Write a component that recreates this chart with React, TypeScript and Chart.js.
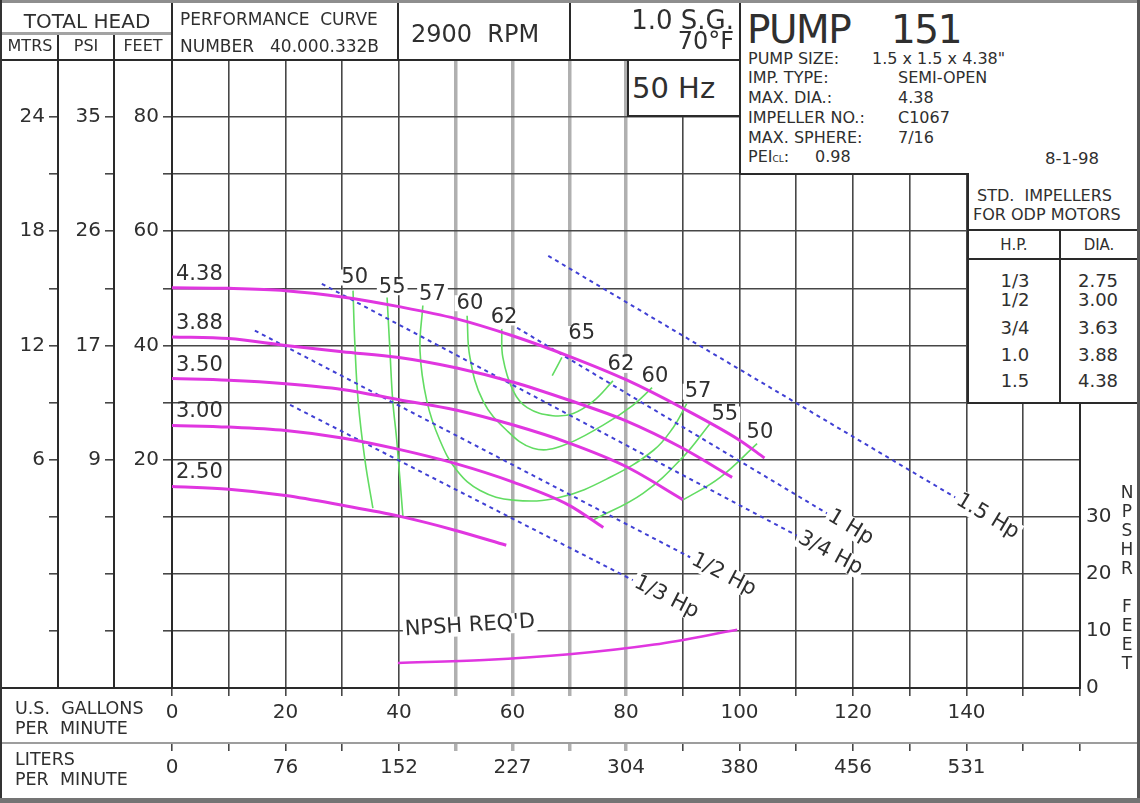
import React, { useEffect, useRef } from 'react';
import { Chart, registerables } from 'chart.js';

Chart.register(...registerables);

// ---------------- Data ----------------
const gpmTickLabels = [0, 20, 40, 60, 80, 100, 120, 140];
const lpmTickLabels = ['0', '76', '152', '227', '304', '380', '456', '531'];
const feetTickLabels = [80, 60, 40, 20];
const mtrsTickLabels = ['24', '18', '12', '6'];
const psiTickLabels = ['35', '26', '17', '9'];
const npshTickLabels = [0, 10, 20, 30];

// Impeller head curves (GPM vs feet)
const impellerNames = ['4.38', '3.88', '3.50', '3.00', '2.50'];
const imp438Gpm = [0, 10, 20, 30, 40, 50, 60, 70, 80, 90, 100, 104.4];
const imp438Head = [50.1, 50.0, 49.6, 48.5, 46.8, 44.7, 41.7, 38.1, 34.0, 29.0, 23.4, 20.3];
const imp388Gpm = [0, 10, 20, 30, 40, 50, 60, 70, 80, 90, 98.7];
const imp388Head = [41.5, 41.2, 40.0, 38.9, 37.9, 36.1, 33.6, 30.4, 26.8, 22.0, 16.9];
const imp350Gpm = [0, 10, 20, 30, 40, 50, 60, 70, 80, 90];
const imp350Head = [34.2, 33.9, 33.3, 32.3, 30.5, 28.7, 26.1, 22.9, 18.8, 13.0];
const imp300Gpm = [0, 10, 20, 30, 40, 50, 60, 70, 76];
const imp300Head = [26.0, 25.7, 25.1, 23.8, 21.8, 19.3, 16.1, 12.0, 8.1];
const imp250Gpm = [0, 10, 20, 30, 40, 50, 58.9];
const imp250Head = [15.3, 14.8, 13.7, 12.0, 10.1, 7.6, 5.0];

// Efficiency contours (%)
const eff50LeftGpm = [31.9, 32.2, 32.8, 34.0, 35.4];
const eff50LeftHead = [49.6, 40.8, 30.3, 19.9, 11.5];
const eff55LeftGpm = [37.9, 38.4, 38.9, 39.6, 40.7];
const eff55LeftHead = [48.4, 39.1, 30.3, 23.4, 9.9];
const eff57Gpm = [44.2, 43.7, 44.9, 47.2, 50.2, 54.3, 60.1, 68.4, 77.2, 84.8, 88.3, 90.7];
const eff57Head = [47.0, 39.1, 30.3, 23.4, 18.1, 14.6, 12.9, 13.4, 16.9, 21.6, 25.6, 29.8];
const eff60Gpm = [52.0, 52.5, 54.8, 59.0, 63.6, 68.4, 75.9, 81.2, 84.6];
const eff60Head = [45.2, 37.9, 30.3, 25.1, 22.0, 22.3, 26.0, 29.5, 32.6];
const eff62Gpm = [58.1, 58.3, 60.1, 62.6, 67.1, 70.7, 74.2, 77.7];
const eff62Head = [42.9, 37.9, 32.1, 29.1, 27.7, 28.1, 30.2, 33.8];
const eff65Gpm = [67.0, 68.7];
const eff65Head = [34.7, 37.9];
const eff55RightGpm = [74.2, 83.0, 90.0, 94.8];
const eff55RightHead = [9.4, 14.1, 20.4, 26.3];
const eff50RightGpm = [90.0, 96.6, 103.1];
const eff50RightHead = [12.9, 16.9, 22.8];

const effLabelText = ['50', '55', '57', '60', '62', '65', '62', '60', '57', '55', '50'];
const effLabelGpm = [32.2, 38.8, 45.9, 52.5, 58.5, 72.2, 79.1, 85.1, 92.7, 97.4, 103.6];
const effLabelHead = [51.9, 50.2, 48.9, 47.4, 44.9, 42.0, 36.6, 34.6, 31.9, 27.9, 24.8];

// Motor horsepower lines
const hpNames = ['1/3 Hp', '1/2 Hp', '3/4 Hp', '1 Hp', '1.5 Hp'];
const hp13Gpm = [20.8, 81.2];
const hp13Head = [29.6, -1.1];
const hp12Gpm = [14.6, 91.3];
const hp12Head = [42.6, 2.9];
const hp34Gpm = [26.4, 110.1];
const hp34Head = [50.8, 6.7];
const hp1Gpm = [60.8, 115.4];
const hp1Head = [43.1, 10.6];
const hp15Gpm = [66.3, 138.0];
const hp15Head = [55.7, 13.4];

// NPSH required (feet)
const npshGpm = [39.8, 55, 70, 85, 99.6];
const npshFeet = [4.4, 4.9, 5.9, 7.6, 10.2];
const npshLabel = "NPSH REQ'D";
const npshLabelGpm = 52.5;
const npshLabelFeet = 10.9;

// Std impellers table
const stdHp = ['1/3', '1/2', '3/4', '1.0', '1.5'];
const stdDia = ['2.75', '3.00', '3.63', '3.88', '4.38'];

// ---------------- Styles ----------------
const FONT = "'DejaVu Sans', Verdana, sans-serif";
const TEXT = '#2f2f2f';
const LINE = '#2a2a2a';
const GRID_DARK = '#474747';
const GRID_GRAY = '#b0b0b0';
const shadedGpm = [50, 60, 70, 80];
const MAGENTA = '#e036e0';
const GREEN = '#62dc62';
const BLUE = '#4040d4';

const pts = (xs: number[], ys: number[]) => xs.map((x, i) => ({ x, y: ys[i] }));

function boxedText(ctx: CanvasRenderingContext2D, text: string, px: number, py: number, angle: number, align: CanvasTextAlign, h: number) {
  ctx.save();
  ctx.translate(px, py);
  ctx.rotate(angle);
  const w = ctx.measureText(text).width;
  const x0 = align === 'left' ? 0 : -w / 2;
  ctx.fillStyle = '#fff';
  ctx.fillRect(x0 - 2, -h / 2, w + 4, h);
  ctx.fillStyle = TEXT;
  ctx.textAlign = align;
  ctx.textBaseline = 'middle';
  ctx.fillText(text, 0, 0);
  ctx.restore();
}

const labelPlugin = {
  id: 'pumpLabels',
  beforeDatasetsDraw(chart: any) {
    const { ctx, scales } = chart;
    const sx = scales.x, sy = scales.feet, sn = scales.npsh;
    ctx.save();
    // efficiency labels
    ctx.font = `21px ${FONT}`;
    effLabelText.forEach((t, i) => {
      boxedText(ctx, t, sx.getPixelForValue(effLabelGpm[i]), sy.getPixelForValue(effLabelHead[i]), 0, 'center', 16);
    });
    // HP labels
    ctx.font = `21px ${FONT}`;
    const hpSets = [[hp13Gpm, hp13Head], [hp12Gpm, hp12Head], [hp34Gpm, hp34Head], [hp1Gpm, hp1Head], [hp15Gpm, hp15Head]];
    hpSets.forEach(([g, h], i) => {
      const x1 = sx.getPixelForValue(g[0]), y1 = sy.getPixelForValue(h[0]);
      const x2 = sx.getPixelForValue(g[1]), y2 = sy.getPixelForValue(h[1]);
      const a = Math.atan2(y2 - y1, x2 - x1);
      boxedText(ctx, hpNames[i], x2 + Math.cos(a) * 3, y2 + Math.sin(a) * 3, a, 'left', 21);
    });
    // NPSH label
    ctx.font = `21px ${FONT}`;
    boxedText(ctx, npshLabel, sx.getPixelForValue(npshLabelGpm), sn.getPixelForValue(npshLabelFeet), -0.06, 'center', 20);
    // impeller labels
    ctx.font = `21px ${FONT}`;
    ctx.fillStyle = TEXT;
    ctx.textAlign = 'left';
    ctx.textBaseline = 'alphabetic';
    const heads = [imp438Head, imp388Head, imp350Head, imp300Head, imp250Head];
    const gpms = [imp438Gpm, imp388Gpm, imp350Gpm, imp300Gpm, imp250Gpm];
    impellerNames.forEach((n, i) => {
      ctx.fillText(n, sx.getPixelForValue(gpms[i][0]) + 4, sy.getPixelForValue(heads[i][0]) - 8);
    });
    ctx.restore();
  },
};

const gridColor = (c: any) => (c.tick && shadedGpm.includes(c.tick.value) ? GRID_GRAY : GRID_DARK);
const gridWidth = (c: any) => (c.tick && shadedGpm.includes(c.tick.value) ? 3.5 : 1.6);

function Line({ l, t, w, h, c = LINE }: { l: number; t: number; w: number; h: number; c?: string }) {
  return <div style={{ position: 'absolute', left: l, top: t, width: w, height: h, background: c }} />;
}

function Txt({ l, t, s, children, style }: { l: number; t: number; s: number; children: any; style?: any }) {
  return (
    <div style={{ position: 'absolute', left: l, top: t, fontSize: s, lineHeight: 1, whiteSpace: 'pre', color: TEXT, ...style }}>
      {children}
    </div>
  );
}

export default function App() {
  const ref = useRef<HTMLCanvasElement>(null);

  useEffect(() => {
    const canvas = ref.current!;
    const base = { pointRadius: 0, pointHoverRadius: 0, xAxisID: 'x', yAxisID: 'feet', fill: false };
    const impSets = [[imp438Gpm, imp438Head], [imp388Gpm, imp388Head], [imp350Gpm, imp350Head], [imp300Gpm, imp300Head], [imp250Gpm, imp250Head]];
    const effSets = [
      [eff50LeftGpm, eff50LeftHead], [eff55LeftGpm, eff55LeftHead], [eff57Gpm, eff57Head], [eff60Gpm, eff60Head],
      [eff62Gpm, eff62Head], [eff65Gpm, eff65Head], [eff55RightGpm, eff55RightHead], [eff50RightGpm, eff50RightHead],
    ];
    const hpSets = [[hp13Gpm, hp13Head], [hp12Gpm, hp12Head], [hp34Gpm, hp34Head], [hp1Gpm, hp1Head], [hp15Gpm, hp15Head]];
    const datasets: any[] = [];
    impSets.forEach(([g, h]) => datasets.push({ ...base, data: pts(g, h), borderColor: MAGENTA, borderWidth: 3, cubicInterpolationMode: 'monotone' }));
    datasets.push({ ...base, yAxisID: 'npsh', data: pts(npshGpm, npshFeet), borderColor: MAGENTA, borderWidth: 2.5, cubicInterpolationMode: 'monotone' });
    hpSets.forEach(([g, h]) => datasets.push({ ...base, data: pts(g, h), borderColor: BLUE, borderWidth: 2, borderDash: [4, 4] }));
    effSets.forEach(([g, h]) => datasets.push({ ...base, data: pts(g, h), borderColor: GREEN, borderWidth: 1.6, tension: 0.4 }));

    const tickFont = { family: FONT, size: 20 };
    const chart = new Chart(canvas, {
      type: 'line',
      data: { datasets },
      plugins: [labelPlugin],
      options: {
        animation: false,
        responsive: false,
        events: [],
        layout: { padding: { left: 3, right: 3, top: 60, bottom: 3 } },
        plugins: { legend: { display: false }, tooltip: { enabled: false } },
        scales: {
          x: {
            type: 'linear', position: 'bottom', weight: 0, min: 0, max: 160,
            afterFit: (s: any) => { s.height = 55; },
            ticks: { stepSize: 10, autoSkip: false, maxRotation: 0, padding: 5, color: TEXT, font: tickFont,
              callback: (v: any) => (gpmTickLabels.includes(v) ? String(v) : '') },
            grid: { color: gridColor, lineWidth: gridWidth, tickLength: 8, tickColor: gridColor, tickWidth: gridWidth },
            border: { display: false },
          },
          lpm: {
            type: 'linear', position: 'bottom', weight: 1, min: 0, max: 160,
            afterFit: (s: any) => { s.height = 57; },
            ticks: { stepSize: 10, autoSkip: false, maxRotation: 0, padding: 5, color: TEXT, font: tickFont,
              callback: (v: any) => (v % 20 === 0 && v / 20 < lpmTickLabels.length ? lpmTickLabels[v / 20] : '') },
            grid: { drawOnChartArea: false, color: gridColor, lineWidth: gridWidth, tickLength: 8 },
            border: { display: false },
          },
          feet: {
            type: 'linear', position: 'left', weight: 0, min: -20, max: 90,
            afterFit: (s: any) => { s.width = 58; },
            ticks: { stepSize: 10, autoSkip: false, padding: 4, color: TEXT, font: tickFont,
              callback: (v: any) => (feetTickLabels.includes(v) ? String(v) : '') },
            grid: { color: GRID_DARK, lineWidth: 1.6, tickLength: 9 },
            border: { color: LINE, width: 2 },
          },
          psi: {
            type: 'linear', position: 'left', weight: 1, min: -20, max: 90,
            afterFit: (s: any) => { s.width = 56; },
            ticks: { stepSize: 10, autoSkip: false, padding: 4, color: TEXT, font: tickFont,
              callback: (v: any) => { const i = feetTickLabels.indexOf(v); return i >= 0 ? psiTickLabels[i] : ''; } },
            grid: { drawOnChartArea: false, color: GRID_DARK, lineWidth: 1.6, tickLength: 9 },
            border: { color: LINE, width: 2 },
          },
          mtrs: {
            type: 'linear', position: 'left', weight: 2, min: -20, max: 90,
            afterFit: (s: any) => { s.width = 55; },
            ticks: { stepSize: 10, autoSkip: false, padding: 4, color: TEXT, font: tickFont,
              callback: (v: any) => { const i = feetTickLabels.indexOf(v); return i >= 0 ? mtrsTickLabels[i] : ''; } },
            grid: { drawOnChartArea: false, color: GRID_DARK, lineWidth: 1.6, tickLength: 9 },
            border: { color: LINE, width: 2 },
          },
          npsh: {
            type: 'linear', position: 'right', min: 0, max: 110,
            afterFit: (s: any) => { s.width = 57; },
            ticks: { stepSize: 10, autoSkip: false, padding: 6, color: TEXT, font: tickFont,
              callback: (v: any) => (npshTickLabels.includes(v) ? String(v) : '') },
            grid: { drawOnChartArea: false, drawTicks: false },
            border: { color: LINE, width: 2 },
          },
        },
      } as any,
    });
    return () => chart.destroy();
  }, []);

  const detailRows = [
    ['PUMP SIZE:', '1.5 x 1.5 x 4.38"', 872, 51],
    ['IMP. TYPE:', 'SEMI-OPEN', 898, 70],
    ['MAX. DIA.:', '4.38', 898, 90],
    ['IMPELLER NO.:', 'C1067', 898, 110],
    ['MAX. SPHERE:', '7/16', 898, 130],
  ];
  const stdRowsY = [272, 291, 319, 346, 372];

  return (
    <div style={{ position: 'absolute', left: 0, top: 0, width: 1140, height: 803, overflow: 'hidden', background: '#fff', fontFamily: FONT }}>
      <canvas ref={ref} width={1140} height={803} style={{ position: 'absolute', left: 0, top: 0 }} />

      {/* header left */}
      <div style={{ position: 'absolute', left: 2, top: 11, width: 170, textAlign: 'center', fontSize: 20, lineHeight: 1, color: TEXT }}>TOTAL HEAD</div>
      <Line l={2} t={32} w={170} h={3} c="#a3a3a3" />
      <div style={{ position: 'absolute', left: 2, top: 38, width: 56, textAlign: 'center', fontSize: 16, lineHeight: 1, color: TEXT }}>MTRS</div>
      <div style={{ position: 'absolute', left: 58, top: 38, width: 56, textAlign: 'center', fontSize: 16, lineHeight: 1, color: TEXT }}>PSI</div>
      <div style={{ position: 'absolute', left: 114, top: 38, width: 58, textAlign: 'center', fontSize: 16, lineHeight: 1, color: TEXT }}>FEET</div>
      <Line l={57} t={35} w={2} h={25} />
      <Line l={113} t={35} w={2} h={25} />
      <Line l={171} t={0} w={2} h={60} />
      <Txt l={180} t={11} s={17}>PERFORMANCE  CURVE</Txt>
      <Txt l={180} t={38} s={17}>NUMBER</Txt>
      <Txt l={270} t={38} s={17}>40.000.332B</Txt>
      <Line l={397} t={0} w={2} h={60} />
      <Txt l={411} t={22} s={24}>2900  RPM</Txt>
      <Line l={569} t={0} w={2} h={60} />
      <div style={{ position: 'absolute', left: 570, top: 7, width: 164, textAlign: 'right', fontSize: 26, lineHeight: 1, color: TEXT }}>1.0 S.G.</div>
      <div style={{ position: 'absolute', left: 570, top: 29, width: 164, textAlign: 'right', fontSize: 24, lineHeight: 1, color: TEXT }}>70°F</div>
      <Line l={0} t={59} w={741} h={2} />

      {/* 50 Hz box */}
      <div style={{ position: 'absolute', left: 627, top: 59, width: 114, height: 58, boxSizing: 'border-box', border: `2px solid ${LINE}`, background: '#fff' }}>
        <div style={{ position: 'absolute', left: 3, top: 13, fontSize: 29, lineHeight: 1, color: TEXT }}>50 Hz</div>
      </div>

      {/* pump box */}
      <div style={{ position: 'absolute', left: 739, top: 0, width: 288, height: 175, boxSizing: 'border-box', borderLeft: `2px solid ${LINE}`, borderRight: `2px solid ${LINE}`, borderBottom: `2px solid ${LINE}`, background: '#fff' }} />
      <Txt l={747} t={10} s={39} style={{ letterSpacing: -1.5 }}>PUMP</Txt>
      <Txt l={891} t={10} s={39} style={{ letterSpacing: -1.5 }}>151</Txt>
      {detailRows.map((r) => (
        <React.Fragment key={r[0] as string}>
          <Txt l={748} t={r[3] as number} s={16}>{r[0]}</Txt>
          <Txt l={r[2] as number} t={r[3] as number} s={16}>{r[1]}</Txt>
        </React.Fragment>
      ))}
      <Txt l={748} t={149} s={16}>PEI<span style={{ fontSize: 9 }}>CL</span>:</Txt>
      <Txt l={815} t={149} s={16}>0.98</Txt>

      {/* right top box */}
      <div style={{ position: 'absolute', left: 1025, top: 0, width: 115, height: 175, boxSizing: 'border-box', borderBottom: `2px solid ${LINE}`, background: '#fff' }} />
      <Txt l={1045} t={151} s={16.5}>8-1-98</Txt>

      {/* std impellers table */}
      <div style={{ position: 'absolute', left: 967, top: 173, width: 173, height: 231, boxSizing: 'border-box', borderLeft: `2px solid ${LINE}`, borderBottom: `2px solid ${LINE}`, background: '#fff' }} />
      <Txt l={977} t={188} s={16}>STD.  IMPELLERS</Txt>
      <Txt l={973} t={207} s={16}>FOR ODP MOTORS</Txt>
      <Line l={967} t={229} w={173} h={2} />
      <Line l={967} t={258} w={173} h={2} />
      <Line l={1059} t={229} w={2} h={174} />
      <div style={{ position: 'absolute', left: 969, top: 238, width: 90, textAlign: 'center', fontSize: 15, lineHeight: 1, color: TEXT }}>H.P.</div>
      <div style={{ position: 'absolute', left: 1061, top: 238, width: 76, textAlign: 'center', fontSize: 15, lineHeight: 1, color: TEXT }}>DIA.</div>
      {stdHp.map((h, i) => (
        <React.Fragment key={h}>
          <div style={{ position: 'absolute', left: 969, top: stdRowsY[i], width: 92, textAlign: 'center', fontSize: 18, lineHeight: 1, color: TEXT }}>{h}</div>
          <div style={{ position: 'absolute', left: 1061, top: stdRowsY[i], width: 74, textAlign: 'center', fontSize: 18, lineHeight: 1, color: TEXT }}>{stdDia[i]}</div>
        </React.Fragment>
      ))}

      {/* NPSH vertical title */}
      <div style={{ position: 'absolute', left: 1117, top: 483, width: 20, textAlign: 'center', fontSize: 17, lineHeight: '19px', color: TEXT, whiteSpace: 'pre' }}>
        {'N\nP\nS\nH\nR\n\nF\nE\nE\nT'}
      </div>

      {/* bottom rows */}
      <Line l={0} t={687} w={1080} h={2} />
      <Line l={0} t={742} w={1140} h={2} c="#9d9d9d" />
      <Txt l={15} t={700} s={17.5}>U.S.  GALLONS</Txt>
      <Txt l={15} t={720} s={17.5}>PER  MINUTE</Txt>
      <Txt l={15} t={751} s={17.5}>LITERS</Txt>
      <Txt l={15} t={771} s={17.5}>PER  MINUTE</Txt>

      {/* frame */}
      <Line l={0} t={0} w={1140} h={3} c="#8e8e8e" />
      <Line l={0} t={0} w={2} h={803} c="#333" />
      <Line l={1137} t={0} w={3} h={803} c="#555" />
      <Line l={0} t={798} w={1140} h={5} c="#747474" />
    </div>
  );
}
